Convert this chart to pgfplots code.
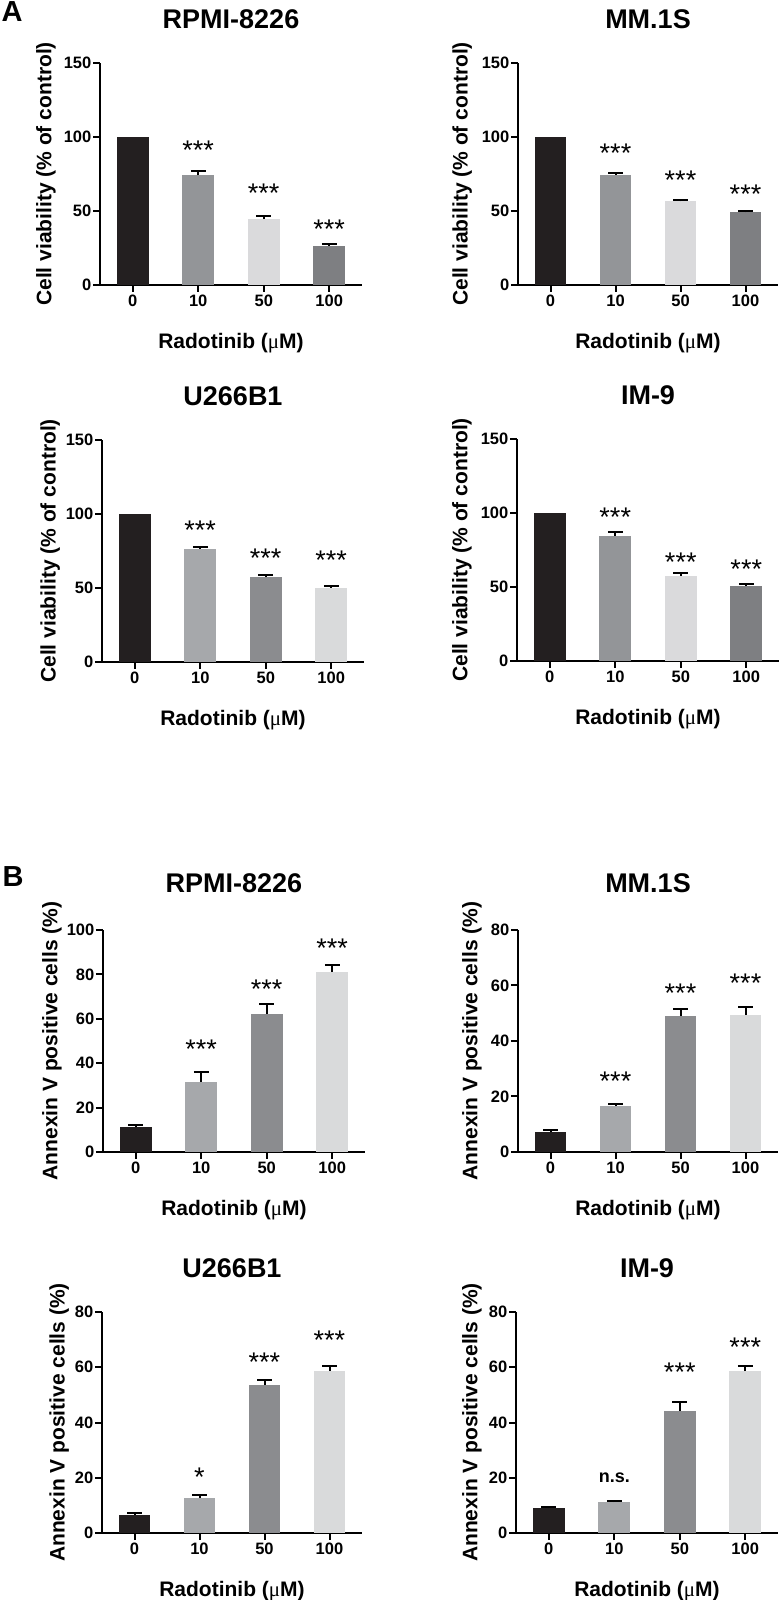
\documentclass[border=0pt]{standalone}
\usepackage{fontspec}
\setmainfont{Liberation Sans}
\newfontfamily\serf{Liberation Serif}
\usepackage{pgfplots}
\pgfplotsset{compat=1.18}
\definecolor{cblack}{HTML}{231F20}
\definecolor{gA}{HTML}{939598}
\definecolor{gB}{HTML}{DADADC}
\definecolor{gC}{HTML}{7E7F82}
\definecolor{gD}{HTML}{A6A8AB}
\definecolor{gE}{HTML}{8B8C8F}
\definecolor{gF}{HTML}{D9DADB}
\pgfplotsset{
 panel/.style={
  scale only axis, width=262pt, height=222pt, anchor=south west,
  axis lines=left, axis line style={line width=2pt, -},
  xmin=-0.5, xmax=3.5, ymin=0,
  xtick={0,1,2,3}, xticklabels={0,10,50,100},
  tick align=outside, major tick length=7pt, tick style={line width=2pt, black},
  ybar, bar width=0.49, bar shift=0pt,
  clip=false,
  tick label style={font=\bfseries\fontsize{16.5}{20}\selectfont},
  yticklabel style={inner sep=1.5pt},
  xticklabel style={inner sep=3pt},
  /pgf/number format/assume math mode=true,
  label style={font=\bfseries\fontsize{21}{25}\selectfont},
  title style={font=\bfseries\fontsize{27}{31}\selectfont, at={(axis description cs:0.5,1)}, anchor=center, yshift=38pt},
  xlabel={Radotinib ({\serf\mdseries μ}M)},
  xlabel style={at={(axis description cs:0.5,-0.261)}, anchor=center},
 },
 pA/.style={panel, ymax=150, ytick={0,50,100,150}, ylabel={Cell viability (\% of control)}},
 pB/.style={panel, ytick={0,20,...,100}, ylabel={Annexin V positive cells (\%)}},
}
\newcommand{\bb}[4]{\addplot[fill=#1, draw=none, error bars/.cd, y dir=plus, y explicit, error bar style={line width=2pt, draw=black, solid}, error mark options={rotate=90, mark size=7.5pt, line width=2pt, draw=black}] coordinates {(#2,#3) +- (0,#4)};}
\newcommand{\bn}[3]{\addplot[fill=#1, draw=none] coordinates {(#2,#3)};}
\newcommand{\st}[2]{\node[font=\fontsize{27}{30}\selectfont, anchor=base, yshift=-15.5pt, inner sep=0pt] at (axis cs:#1,#2) {***};}
\newcommand{\sst}[2]{\node[font=\fontsize{27}{30}\selectfont, anchor=base, yshift=-15.5pt, inner sep=0pt] at (axis cs:#1,#2) {*};}
\newcommand{\ns}[2]{\node[font=\bfseries\fontsize{18}{22}\selectfont, anchor=base, yshift=-4.7pt, inner sep=0pt] at (axis cs:#1,#2) {n.s.};}
\begin{document}
\begin{tikzpicture}
\useasboundingbox (0,0) rectangle (780pt,1600pt);
\node[font=\bfseries\fontsize{29}{32}\selectfont] at (12pt,1588pt) {A};
\node[font=\bfseries\fontsize{29}{32}\selectfont] at (13pt,723pt) {B};
% A RPMI-8226
\begin{axis}[pA, at={(100pt,1315pt)}, title={RPMI-8226}, ylabel style={at={(axis description cs:-0.206,0.5)}, anchor=center}]
\bn{cblack}{0}{100}
\bb{gA}{1}{74}{2.7}
\bb{gB}{2}{44.5}{2.2}
\bb{gC}{3}{26.4}{1.2}
\st{1}{95.4}\st{2}{65.9}\st{3}{41.7}
\end{axis}
% A MM.1S
\begin{axis}[pA, at={(518pt,1315pt)}, width=260pt, title={MM.1S}, ylabel style={at={(axis description cs:-0.215,0.5)}, anchor=center}]
\bn{cblack}{0}{100}
\bb{gA}{1}{74.2}{1.3}
\bb{gB}{2}{56.5}{1.0}
\bb{gC}{3}{49}{1.0}
\st{1}{92.9}\st{2}{75.1}\st{3}{65.4}
\end{axis}
% A U266B1
\begin{axis}[pA, at={(102pt,938pt)}, title={U266B1}, ylabel style={at={(axis description cs:-0.198,0.5)}, anchor=center}]
\bn{cblack}{0}{100}
\bb{gD}{1}{76.5}{1.4}
\bb{gE}{2}{57.6}{0.9}
\bb{gF}{3}{50.2}{1.2}
\st{1}{92.9}\st{2}{74.4}\st{3}{73.3}
\end{axis}
% A IM-9
\begin{axis}[pA, at={(517pt,939pt)}, title={IM-9}, ylabel style={at={(axis description cs:-0.21,0.5)}, anchor=center}]
\bn{cblack}{0}{100}
\bb{gA}{1}{84.6}{2.6}
\bb{gB}{2}{57.5}{2.0}
\bb{gC}{3}{51}{1.3}
\st{1}{101.5}\st{2}{70.6}\st{3}{66.5}
\end{axis}
% B RPMI-8226
\begin{axis}[pB, at={(103pt,448pt)}, ymax=100, title={RPMI-8226}, title style={yshift=3pt}, ylabel style={at={(axis description cs:-0.195,0.5)}, anchor=center}]
\bb{cblack}{0}{11.3}{0.8}
\bb{gD}{1}{31.6}{4.4}
\bb{gE}{2}{62.3}{4.3}
\bb{gF}{3}{81}{3.3}
\st{1}{48.9}\st{2}{76.2}\st{3}{94.7}
\end{axis}
% B MM.1S
\begin{axis}[pB, at={(518pt,448pt)}, width=260pt, ymax=80, title={MM.1S}, title style={yshift=3pt}, ylabel style={at={(axis description cs:-0.177,0.5)}, anchor=center}]
\bb{cblack}{0}{7.2}{0.8}
\bb{gD}{1}{16.5}{0.9}
\bb{gE}{2}{49}{2.5}
\bb{gF}{3}{49.3}{2.8}
\st{1}{27.7}\st{2}{59.3}\st{3}{63.2}
\end{axis}
% B U266B1
\begin{axis}[pB, at={(102pt,67pt)}, height=221pt, width=260pt, ymax=80, title={U266B1}, ylabel style={at={(axis description cs:-0.165,0.5)}, anchor=center}]
\bb{cblack}{0}{6.6}{0.5}
\bb{gD}{1}{12.6}{1.1}
\bb{gE}{2}{53.5}{1.8}
\bb{gF}{3}{58.7}{1.9}
\sst{1}{22.6}\st{2}{64}\st{3}{72.2}
\end{axis}
% B IM-9
\begin{axis}[pB, at={(516pt,67pt)}, height=221pt, ymax=80, title={IM-9}, ylabel style={at={(axis description cs:-0.168,0.5)}, anchor=center}]
\bb{cblack}{0}{8.9}{0.6}
\bb{gD}{1}{11.2}{0.5}
\bb{gE}{2}{44.3}{3.0}
\bb{gF}{3}{58.6}{2.0}
\ns{1}{19.9}\st{2}{60.5}\st{3}{69.6}
\end{axis}
\end{tikzpicture}
\end{document}
